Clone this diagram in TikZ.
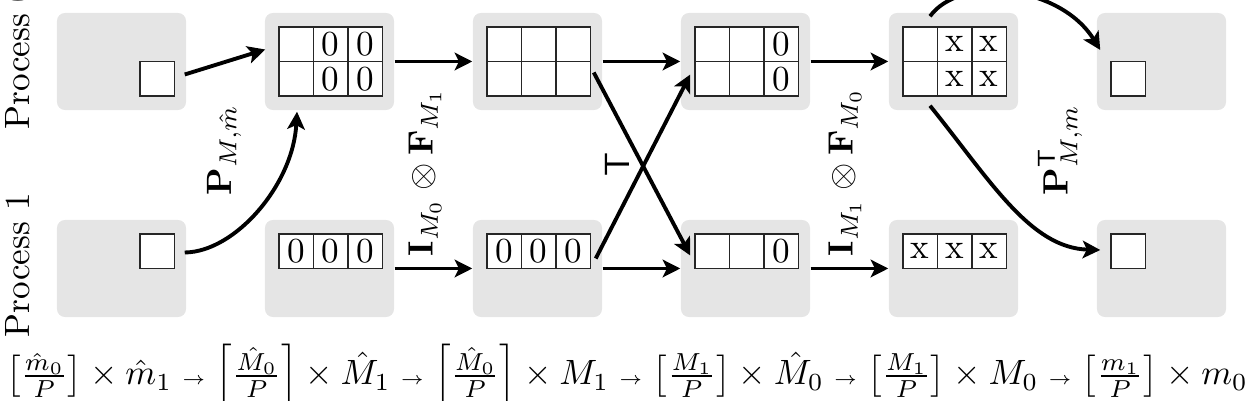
\documentclass[tikz,border=0pt]{standalone}
\usepackage{amsmath}
\usetikzlibrary{arrows.meta,calc}
\newcommand{\sar}{\mathrel{\scriptscriptstyle\rightarrow}}
\begin{document}
\begin{tikzpicture}[x=0.01cm,y=-0.01cm,
  panel/.style={fill=black!10, rounded corners=0.08cm, minimum width=1.29cm, minimum height=0.97cm, inner sep=0},
  cell/.style={draw=black!85, fill=white, line width=0.55pt, minimum size=0.345cm, inner sep=0},
  flow/.style={line width=1.1pt, -{Stealth[length=5pt,width=5pt,inset=1.2pt]}},
  lbl/.style={rotate=90, inner sep=0}
]
\useasboundingbox (0,0) rectangle (1248,401);
\clip (0,0) rectangle (1248,401);
% panels
\foreach \i in {1,...,6} {
  \node[panel] (t\i) at ({121.5+208*(\i-1)},61.5) {};
  \node[panel] (b\i) at ({121.5+208*(\i-1)},268.5) {};
}
% cells: column / panel top y / cell column / cell row / text
\foreach \col/\top/\c/\r/\txt in {
  1/13/3/2/{},
  2/13/1/1/{}, 2/13/2/1/0, 2/13/3/1/0, 2/13/1/2/{}, 2/13/2/2/0, 2/13/3/2/0,
  3/13/1/1/{}, 3/13/2/1/{}, 3/13/3/1/{}, 3/13/1/2/{}, 3/13/2/2/{}, 3/13/3/2/{},
  4/13/1/1/{}, 4/13/2/1/{}, 4/13/3/1/0, 4/13/1/2/{}, 4/13/2/2/{}, 4/13/3/2/0,
  5/13/1/1/{}, 5/13/2/1/x, 5/13/3/1/x, 5/13/1/2/{}, 5/13/2/2/x, 5/13/3/2/x,
  6/13/1/2/{},
  1/220/3/1/{},
  2/220/1/1/0, 2/220/2/1/0, 2/220/3/1/0,
  3/220/1/1/0, 3/220/2/1/0, 3/220/3/1/0,
  4/220/1/1/{}, 4/220/2/1/{}, 4/220/3/1/0,
  5/220/1/1/x, 5/220/2/1/x, 5/220/3/1/x,
  6/220/1/1/{}} {
  \node[cell] (cell-\col-\top-\c-\r) at ({57+208*(\col-1)+14+34.5*(\c-0.5)},{\top+14+34.5*(\r-0.5)}) {\txt};
}
% horizontal arrows
\draw[flow] (t2.east) -- (t3.west);
\draw[flow] (t3.east) -- (t4.west);
\draw[flow] (t4.east) -- (t5.west);
\draw[flow] (b2.east) -- (b3.west);
\draw[flow] (b3.east) -- (b4.west);
\draw[flow] (b4.east) -- (b5.west);
% permutation
\draw[flow] ($(t1.east)+(-2,13)$) -- ($(t2.west)+(1,-12)$);
\draw[flow] ($(b1.east)+(-2,-16)$) .. controls (235,252) and (293,185) .. ($(t2.south)+(-32.5,1)$);
% transpose
\draw[flow] ($(t3.east)+(-9,11)$) -- ($(b4.west)+(10,-13)$);
\draw[flow] ($(b3.east)+(-7,-10)$) -- ($(t4.west)+(10,13)$);
% inverse permutation
\draw[flow] ($(t5.north)+(-23.5,4)$) .. controls (960,-25) and (1060,-15) .. ($(t6.west)+(4,-11.5)$);
\draw[flow] ($(t5.south)+(-23.5,-5)$) .. controls (990,180) and (1030,248) .. ($(b6.west)+(4,-18.5)$);
% labels
\node[lbl] (lp0) at (18,57) {Process 0};
\node[lbl] (lp1) at (18,265) {Process 1};
\node[lbl] (lP) at (224,150) {$\mathbf{P}_{M,\hat m}$};
\node[lbl] (lIF1) at (425,172) {$\mathbf{I}_{M_0}\otimes\mathbf{F}_{M_1}$};
\node[lbl] (lT) at (617,165) {$\mathsf{T}$};
\node[lbl] (lIF2) at (845,172) {$\mathbf{I}_{M_1}\otimes\mathbf{F}_{M_0}$};
\node[lbl] (lPT) at (1060,150) {$\mathbf{P}^{\mathsf{T}}_{M,m}$};
\node[anchor=base, inner sep=0] (formula) at (627,385) {$\left[\frac{\hat m_0}{P}\right]\times\hat m_1\sar\left[\frac{\hat M_0}{P}\right]\times\hat M_1\sar\left[\frac{\hat M_0}{P}\right]\times M_1\sar\left[\frac{M_1}{P}\right]\times\hat M_0\sar\left[\frac{M_1}{P}\right]\times M_0\sar\left[\frac{m_1}{P}\right]\times m_0$};
\end{tikzpicture}
\end{document}
